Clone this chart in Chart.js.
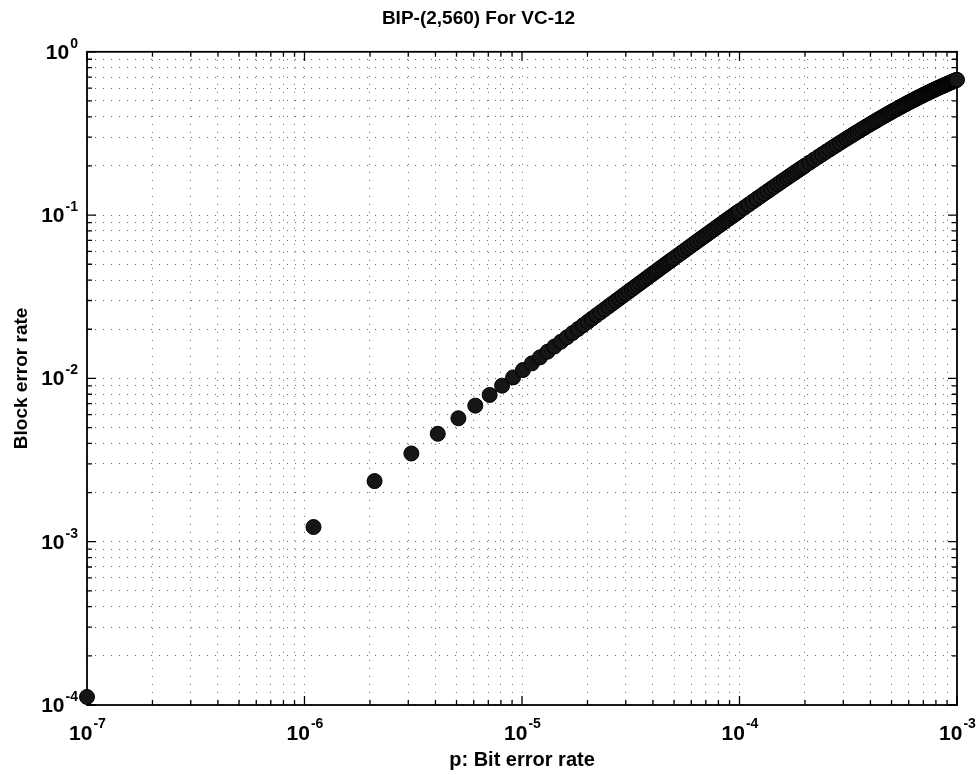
<!DOCTYPE html>
<html>
<head>
<meta charset="utf-8">
<title>BIP-(2,560) For VC-12</title>
<script src="https://cdn.jsdelivr.net/npm/chart.js@4.4.1/dist/chart.umd.min.js"></script>
<style>
  html, body { margin: 0; padding: 0; background: #fff; }
  #wrap { width: 979px; height: 775px; }
</style>
</head>
<body>
<div id="wrap"><canvas id="chartBase" width="979" height="775"></canvas></div>
<script>
// p: bit error rate (x) y block error rate (y)
const pBitError = [
  1e-7, 1.1e-6, 2.1e-6, 3.1e-6, 4.1e-6, 5.1e-6, 6.1e-6, 7.1e-6, 8.1e-6, 9.1e-6,
  1.01e-5, 1.11e-5, 1.21e-5, 1.31e-5, 1.41e-5, 1.51e-5, 1.61e-5, 1.71e-5, 1.81e-5, 1.91e-5, 2.01e-5,
  2.1e-5, 2.2e-5, 2.3e-5, 2.4e-5, 2.5e-5, 2.6e-5, 2.7e-5, 2.8e-5, 2.9e-5, 3.0e-5,
  3.1e-5, 3.2e-5, 3.3e-5, 3.4e-5, 3.5e-5, 3.6e-5, 3.7e-5, 3.8e-5, 3.9e-5, 4.0e-5,
  4.1e-5, 4.2e-5, 4.3e-5, 4.4e-5, 4.5e-5, 4.6e-5, 4.7e-5, 4.8e-5, 4.9e-5, 5.0e-5,
  5.2e-5, 5.4e-5, 5.6e-5, 5.8e-5, 6.0e-5, 6.2e-5, 6.4e-5, 6.6e-5, 6.8e-5, 7.0e-5,
  7.2e-5, 7.4e-5, 7.6e-5, 7.8e-5, 8.0e-5, 8.2e-5, 8.4e-5, 8.6e-5, 8.8e-5, 9.0e-5,
  9.2e-5, 9.4e-5, 9.6e-5, 9.8e-5, 1.0e-4,
  1.05e-4, 1.1e-4, 1.15e-4, 1.2e-4, 1.25e-4, 1.3e-4, 1.35e-4, 1.4e-4, 1.45e-4, 1.5e-4,
  1.55e-4, 1.6e-4, 1.65e-4, 1.7e-4, 1.75e-4, 1.8e-4, 1.85e-4, 1.9e-4, 1.95e-4, 2.0e-4,
  2.1e-4, 2.2e-4, 2.3e-4, 2.4e-4, 2.5e-4, 2.6e-4, 2.7e-4, 2.8e-4, 2.9e-4, 3.0e-4,
  3.1e-4, 3.2e-4, 3.3e-4, 3.4e-4, 3.5e-4, 3.6e-4, 3.7e-4, 3.8e-4, 3.9e-4, 4.0e-4,
  4.1e-4, 4.2e-4, 4.3e-4, 4.4e-4, 4.5e-4, 4.6e-4, 4.7e-4, 4.8e-4, 4.9e-4, 5.0e-4,
  5.1e-4, 5.2e-4, 5.3e-4, 5.4e-4, 5.5e-4, 5.6e-4, 5.7e-4, 5.8e-4, 5.9e-4, 6.0e-4,
  6.1e-4, 6.2e-4, 6.3e-4, 6.4e-4, 6.5e-4, 6.6e-4, 6.7e-4, 6.8e-4, 6.9e-4, 7.0e-4,
  7.1e-4, 7.2e-4, 7.3e-4, 7.4e-4, 7.5e-4, 7.6e-4, 7.7e-4, 7.8e-4, 7.9e-4, 8.0e-4,
  8.1e-4, 8.2e-4, 8.3e-4, 8.4e-4, 8.5e-4, 8.6e-4, 8.7e-4, 8.8e-4, 8.9e-4, 9.0e-4,
  9.1e-4, 9.2e-4, 9.3e-4, 9.4e-4, 9.5e-4, 9.6e-4, 9.7e-4, 9.8e-4, 9.9e-4, 1.0e-3
];

const blockError = [
  1.12e-4, 1.23e-3, 2.35e-3, 3.47e-3, 4.58e-3, 5.70e-3, 6.81e-3, 7.92e-3, 9.03e-3, 1.014e-2,
  1.125e-2, 1.236e-2, 1.346e-2, 1.457e-2, 1.567e-2, 1.677e-2, 1.787e-2, 1.897e-2, 2.007e-2, 2.117e-2, 2.226e-2,
  0.02325, 0.02434, 0.02543, 0.02652, 0.02761, 0.02870, 0.02979, 0.03087, 0.03196, 0.03304,
  0.03412, 0.03521, 0.03629, 0.03736, 0.03844, 0.03952, 0.04059, 0.04167, 0.04274, 0.04381,
  0.04488, 0.04595, 0.04702, 0.04809, 0.04915, 0.05022, 0.05128, 0.05234, 0.05340, 0.05446,
  0.05658, 0.05869, 0.06079, 0.06290, 0.06499, 0.06709, 0.06917, 0.07126, 0.07333, 0.07541,
  0.07747, 0.0795, 0.0816, 0.0837, 0.0857, 0.0877, 0.0898, 0.0918, 0.0939, 0.0959,
  0.0979, 0.0999, 0.1019, 0.1040, 0.1060,
  0.1109, 0.1159, 0.1209, 0.1258, 0.1306, 0.1355, 0.1403, 0.1451, 0.1499, 0.1546,
  0.1594, 0.1641, 0.1687, 0.1734, 0.1780, 0.1826, 0.1871, 0.1917, 0.1962, 0.2007,
  0.2096, 0.2184, 0.2271, 0.2357, 0.2442, 0.2526, 0.2610, 0.2692, 0.2773, 0.2854,
  0.2933, 0.3012, 0.3090, 0.3167, 0.3243, 0.3318, 0.3393, 0.3466, 0.3539, 0.3611,
  0.3682, 0.3752, 0.3822, 0.3891, 0.3959, 0.4026, 0.4093, 0.4159, 0.4224, 0.4288,
  0.4352, 0.4414, 0.4477, 0.4538, 0.4599, 0.4659, 0.4719, 0.4777, 0.4836, 0.4893,
  0.4950, 0.5006, 0.5062, 0.5117, 0.5171, 0.5225, 0.5278, 0.5331, 0.5383, 0.5434,
  0.5485, 0.5535, 0.5585, 0.5634, 0.5683, 0.5731, 0.5779, 0.5826, 0.5872, 0.5918,
  0.5963, 0.6008, 0.6053, 0.6097, 0.6140, 0.6183, 0.6226, 0.6268, 0.6309, 0.6351,
  0.6391, 0.6431, 0.6471, 0.6510, 0.6549, 0.6588, 0.6626, 0.6663, 0.6700, 0.6737
];

// decadas con etiqueta (10^exp)
const xDecades = [1e-7, 1e-6, 1e-5, 1e-4, 1e-3];
const xDecadeExp = ["-7", "-6", "-5", "-4", "-3"];
const yDecades = [1e-4, 1e-3, 1e-2, 1e-1, 1];
const yDecadeExp = ["-4", "-3", "-2", "-1", "0"];
const minorMult = [1, 2, 3, 4, 5, 6, 7, 8, 9];

const FONT = "'Liberation Sans', Arial, Helvetica, sans-serif";

function gridValues(decades) {
  const vals = [];
  for (let i = 0; i < decades.length - 1; i++) {
    for (let j = 0; j < minorMult.length; j++) vals.push(decades[i] * minorMult[j]);
  }
  vals.push(decades[decades.length - 1]);
  return vals;
}

const xGrid = gridValues(xDecades);
const yGrid = gridValues(yDecades);

// caja, marcas hacia dentro y etiquetas 10^n
const ejesPlugin = {
  id: "ejes",
  beforeDatasetsDraw(chart) {
    const ctx = chart.ctx;
    const a = chart.chartArea;
    const sx = chart.scales.x;
    const sy = chart.scales.y;
    ctx.save();
    ctx.strokeStyle = "#000";
    ctx.lineWidth = 1.8;
    ctx.strokeRect(a.left, a.top, a.right - a.left, a.bottom - a.top);

    ctx.lineWidth = 1.3;
    ctx.beginPath();
    for (let i = 0; i < xGrid.length; i++) {
      const x = sx.getPixelForValue(xGrid[i]);
      const len = xDecades.indexOf(xGrid[i]) >= 0 ? 9 : 5;
      ctx.moveTo(x, a.bottom); ctx.lineTo(x, a.bottom - len);
      ctx.moveTo(x, a.top); ctx.lineTo(x, a.top + len);
    }
    for (let i = 0; i < yGrid.length; i++) {
      const y = sy.getPixelForValue(yGrid[i]);
      const len = yDecades.indexOf(yGrid[i]) >= 0 ? 9 : 5;
      ctx.moveTo(a.left, y); ctx.lineTo(a.left + len, y);
      ctx.moveTo(a.right, y); ctx.lineTo(a.right - len, y);
    }
    ctx.stroke();
    ctx.restore();
  },
  afterDraw(chart) {
    const ctx = chart.ctx;
    const a = chart.chartArea;
    const sx = chart.scales.x;
    const sy = chart.scales.y;
    const big = "bold 21px " + FONT;
    const small = "bold 14px " + FONT;
    ctx.save();
    ctx.fillStyle = "#000";
    ctx.textBaseline = "alphabetic";
    ctx.textAlign = "left";

    for (let i = 0; i < xDecades.length; i++) {
      const x = sx.getPixelForValue(xDecades[i]);
      ctx.font = big;
      const w1 = ctx.measureText("10").width;
      ctx.font = small;
      const w2 = ctx.measureText(xDecadeExp[i]).width;
      const x0 = x - (w1 + w2) / 2;
      const base = a.bottom + 35;
      ctx.font = big;
      ctx.fillText("10", x0, base);
      ctx.font = small;
      ctx.fillText(xDecadeExp[i], x0 + w1 + 1, base - 12);
    }

    for (let i = 0; i < yDecades.length; i++) {
      const y = sy.getPixelForValue(yDecades[i]);
      ctx.font = big;
      const w1 = ctx.measureText("10").width;
      ctx.font = small;
      const w2 = ctx.measureText(yDecadeExp[i]).width;
      const x0 = a.left - 9 - w1 - w2 - 1;
      const base = y + 7;
      ctx.font = big;
      ctx.fillText("10", x0, base);
      ctx.font = small;
      ctx.fillText(yDecadeExp[i], x0 + w1 + 1, base - 11);
    }
    ctx.restore();
  }
};

function pintarChart() {
  const canvas = document.getElementById("chartBase");
  const ctx = canvas.getContext("2d");

  const puntos = [];
  for (let i = 0; i < pBitError.length; i++) {
    puntos.push({ x: pBitError[i], y: blockError[i] });
  }

  new Chart(ctx, {
    type: "scatter",
    data: {
      datasets: [{
        label: "BIP-(2,560)",
        data: puntos,
        pointStyle: "circle",
        pointRadius: 7.5,
        pointBackgroundColor: "#161616",
        pointBorderColor: "#000",
        pointBorderWidth: 1,
        showLine: false,
        clip: false
      }]
    },
    options: {
      responsive: false,
      animation: false,
      layout: { padding: { left: 0, right: 22, top: 0, bottom: 0 } },
      plugins: {
        legend: { display: false },
        tooltip: { enabled: false },
        title: {
          display: true,
          text: "BIP-(2,560) For VC-12",
          color: "#000",
          font: { family: FONT, size: 19, weight: "bold" },
          padding: { top: 7, bottom: 22 }
        }
      },
      scales: {
        x: {
          type: "logarithmic",
          min: 1e-7,
          max: 1e-3,
          afterBuildTicks: function (s) { s.ticks = xGrid.map(function (v) { return { value: v }; }); },
          afterFit: function (s) { s.height = 70; },
          ticks: { display: false },
          grid: { color: "rgba(0,0,0,0.6)", lineWidth: 1, drawTicks: false },
          border: { display: false, dash: [1, 7] },
          title: {
            display: true,
            text: "p: Bit error rate",
            color: "#000",
            font: { family: FONT, size: 20, weight: "bold" },
            padding: { top: 0, bottom: 3 }
          }
        },
        y: {
          type: "logarithmic",
          min: 1e-4,
          max: 1,
          afterBuildTicks: function (s) { s.ticks = yGrid.map(function (v) { return { value: v }; }); },
          afterFit: function (s) { s.width = 87; },
          ticks: { display: false },
          grid: { color: "rgba(0,0,0,0.6)", lineWidth: 1, drawTicks: false },
          border: { display: false, dash: [1, 7] },
          title: {
            display: true,
            text: "Block error rate",
            color: "#000",
            font: { family: FONT, size: 19, weight: "bold" },
            padding: { top: 10, bottom: 0 }
          }
        }
      }
    },
    plugins: [ejesPlugin]
  });
}

pintarChart();
</script>
</body>
</html>
